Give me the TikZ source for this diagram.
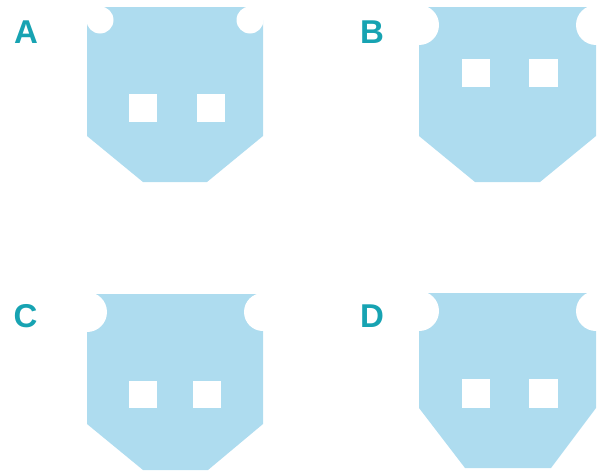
\documentclass[tikz,border=0pt]{standalone}
\usepackage{fontspec}
\setmainfont{Liberation Sans}
\definecolor{plugblue}{HTML}{AEDCEF}
\definecolor{labteal}{HTML}{17A3B2}
\begin{document}
\begin{tikzpicture}[x=1pt,y=-1pt,
  body/.style={fill=plugblue},
  hole/.style={fill=white},
  lbl/.style={text=labteal, font=\bfseries\fontsize{33}{33}\selectfont, inner sep=0pt}]
\useasboundingbox (0,0) rectangle (602,471);
% ---------- A ----------
\fill[body] (103,7) -- (246,7) -- (263,20) -- (263,136) -- (207,182) -- (143,182) -- (87,136) -- (87,20) -- cycle;
\fill[hole] (100,20) circle[radius=13.5];
\fill[hole] (250,20) circle[radius=13.5];
\fill[hole] (129,94) rectangle (157,122);
\fill[hole] (197,94) rectangle (225,122);
\node[lbl] (labA) at (26,32) {A};
% ---------- B ----------
\fill[body] (419,7) -- (596,7) -- (596,136) -- (540,182) -- (475,182) -- (419,136) -- cycle;
\fill[hole] (419,25) circle[radius=20];
\fill[hole] (596,25) circle[radius=20];
\fill[hole] (462,59) rectangle (490,87);
\fill[hole] (529,59) rectangle (558,87);
\node[lbl] (labB) at (372,32) {B};
% ---------- C ----------
\fill[body] (87,294) -- (263,294) -- (263,424) -- (208,470) -- (143,470) -- (87,424) -- cycle;
\fill[hole] (87,312) circle[radius=20];
\fill[hole] (263,312) circle[radius=19];
\fill[hole] (129,381) rectangle (157,408);
\fill[hole] (193,381) rectangle (221,408);
\node[lbl] (labC) at (25.5,316) {C};
% ---------- D ----------
\fill[body] (419,293) -- (596,293) -- (596,408) -- (551,468) -- (465,468) -- (419,408) -- cycle;
\fill[hole] (419,311) circle[radius=20];
\fill[hole] (596,311) circle[radius=20];
\fill[hole] (462,379) rectangle (490,408);
\fill[hole] (529,379) rectangle (558,408);
\node[lbl] (labD) at (372,316) {D};
\end{tikzpicture}
\end{document}
